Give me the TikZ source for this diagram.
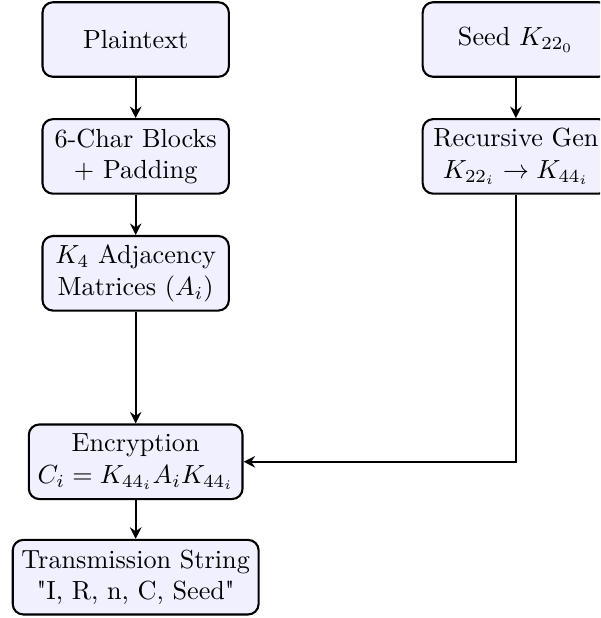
\documentclass[tikz,border=0pt]{standalone}
\usepackage{amsmath,amssymb}
\usetikzlibrary{positioning,arrows.meta}

\begin{document}
\begin{tikzpicture}[
		stage/.style={draw, thick, rounded corners, fill=blue!6, align=center, minimum width=2.5cm, minimum height=1cm},
		flow/.style={-{Stealth[length=4.4pt,width=4.4pt,inset=1.5pt]}, thick}]
		\useasboundingbox (0,0) rectangle (8.05,-8.29);
		\clip (0,0) rectangle (8.05,-8.29);
		\node[stage] (plain) at (1.82,-0.53){Plaintext};
		\node[stage, below=0.54cm of plain] (blocks){6-Char Blocks\\+ Padding};
		\node[stage, below=0.54cm of blocks] (adj){$K_4$ Adjacency\\Matrices ($A_i$)};
		\node[stage, below=1.5cm of adj] (enc){Encryption\\$C_i = K_{44_i} A_i K_{44_i}$};
		\node[stage, below=0.52cm of enc] (trans){Transmission String\\\textquotedbl I, R, n, C, Seed\textquotedbl};
		\node[stage] (seed) at (6.92,-0.53){Seed $K_{22_0}$};
		\node[stage, below=0.54cm of seed] (gen){Recursive Gen\\$K_{22_i} \to K_{44_i}$};
		\draw[flow] (plain) -- (blocks);
		\draw[flow] (blocks) -- (adj);
		\draw[flow] (adj) -- (enc);
		\draw[flow] (enc) -- (trans);
		\draw[flow] (seed) -- (gen);
		\draw[flow] (gen) |- (enc);
	\end{tikzpicture}
\end{document}
